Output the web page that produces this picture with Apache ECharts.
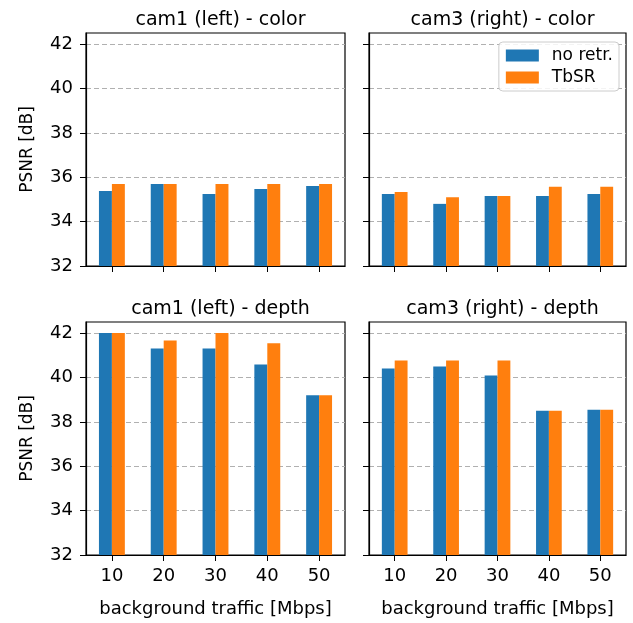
<!DOCTYPE html>
<html>
<head>
<meta charset="utf-8">
<script src="https://cdn.jsdelivr.net/npm/echarts@6/dist/echarts.min.js"></script>
<style>
  html, body { margin: 0; padding: 0; background: #fff; }
  #chart { width: 633px; height: 623px; }
</style>
</head>
<body>
<div id="chart"></div>
<script>
// background traffic [Mbps]
const traffic = ['10', '20', '30', '40', '50'];
const seriesNames = ['no retr.', 'TbSR'];
const panelTitles = ['cam1 (left) - color', 'cam3 (right) - color', 'cam1 (left) - depth', 'cam3 (right) - depth'];

// PSNR [dB]
const cam1ColorNoRetr = [35.38, 35.70, 35.25, 35.47, 35.60];
const cam1ColorTbSR   = [35.70, 35.70, 35.70, 35.70, 35.70];
const cam3ColorNoRetr = [35.25, 34.80, 35.16, 35.16, 35.25];
const cam3ColorTbSR   = [35.33, 35.10, 35.16, 35.57, 35.57];
const cam1DepthNoRetr = [42.00, 41.31, 41.31, 40.59, 39.20];
const cam1DepthTbSR   = [42.00, 41.67, 42.00, 41.54, 39.20];
const cam3DepthNoRetr = [40.41, 40.50, 40.09, 38.50, 38.55];
const cam3DepthTbSR   = [40.77, 40.77, 40.77, 38.50, 38.55];
const yTicks = [32, 34, 36, 38, 40, 42];

const panelData = [
  [cam1ColorNoRetr, cam1ColorTbSR],
  [cam3ColorNoRetr, cam3ColorTbSR],
  [cam1DepthNoRetr, cam1DepthTbSR],
  [cam3DepthNoRetr, cam3DepthTbSR]
];

const colors = ['#1f77b4', '#ff7f0e'];
const font = 'DejaVu Sans';
const grids = [
  { left: 86, top: 33, width: 259, height: 233 },
  { left: 369, top: 33, width: 257, height: 233 },
  { left: 86, top: 322, width: 259, height: 233 },
  { left: 369, top: 322, width: 257, height: 233 }
];

const chart = echarts.init(document.getElementById('chart'));

const option = {
  animation: false,
  textStyle: { fontFamily: font, color: '#000' },
  title: grids.map((g, i) => ({
    text: panelTitles[i],
    left: g.left + g.width / 2,
    top: g.top - 27,
    textAlign: 'center',
    textStyle: { fontFamily: font, fontSize: 19, fontWeight: 'normal', color: '#000' }
  })),
  legend: {
    right: 14,
    top: 42,
    orient: 'vertical',
    icon: 'rect',
    itemWidth: 33,
    itemHeight: 12,
    itemGap: 5,
    padding: [5, 6, 5, 7],
    borderColor: '#cccccc',
    borderWidth: 1,
    borderRadius: 4,
    backgroundColor: 'rgba(255,255,255,0.85)',
    data: seriesNames,
    textStyle: { fontFamily: font, fontSize: 17, color: '#000', padding: [0, 0, 0, 8] },
    z: 10
  },
  grid: grids.map(g => ({
    left: g.left, top: g.top, width: g.width, height: g.height,
    show: true, borderColor: '#000', borderWidth: 1.2, backgroundColor: 'transparent'
  })),
  xAxis: grids.map((g, i) => ({
    type: 'category',
    gridIndex: i,
    data: traffic,
    boundaryGap: true,
    axisLine: { show: true, lineStyle: { color: '#000', width: 1.2 } },
    axisTick: { show: true, alignWithLabel: true, length: 6, lineStyle: { color: '#000' } },
    axisLabel: { show: i >= 2, fontFamily: font, fontSize: 18, color: '#000', margin: 12 },
    name: i >= 2 ? 'background traffic [Mbps]' : '',
    nameLocation: 'middle',
    nameGap: 45,
    nameTextStyle: { fontFamily: font, fontSize: 18, color: '#000' },
    splitLine: { show: false }
  })),
  yAxis: grids.map((g, i) => ({
    type: 'value',
    gridIndex: i,
    min: 32,
    max: 42.5,
    interval: 2,
    axisLine: { show: true, lineStyle: { color: '#000', width: 1.2 } },
    axisTick: { show: true, length: 6, customValues: yTicks, lineStyle: { color: '#000' } },
    axisLabel: {
      show: i % 2 === 0, customValues: yTicks,
      fontFamily: font, fontSize: 18, color: '#000', margin: 13
    },
    name: i % 2 === 0 ? 'PSNR [dB]' : '',
    nameLocation: 'middle',
    nameGap: 50,
    nameRotate: 90,
    nameTextStyle: { fontFamily: font, fontSize: 17, color: '#000' },
    splitLine: { show: true, lineStyle: { color: '#b0b0b0', type: [5, 3], width: 1 } }
  })),
  series: []
};

panelData.forEach((pair, i) => {
  pair.forEach((vals, j) => {
    option.series.push({
      name: seriesNames[j],
      type: 'bar',
      xAxisIndex: i,
      yAxisIndex: i,
      data: vals,
      barGap: '0%',
      barCategoryGap: '50%',
      itemStyle: { color: colors[j] }
    });
  });
});

chart.setOption(option);
</script>
</body>
</html>
